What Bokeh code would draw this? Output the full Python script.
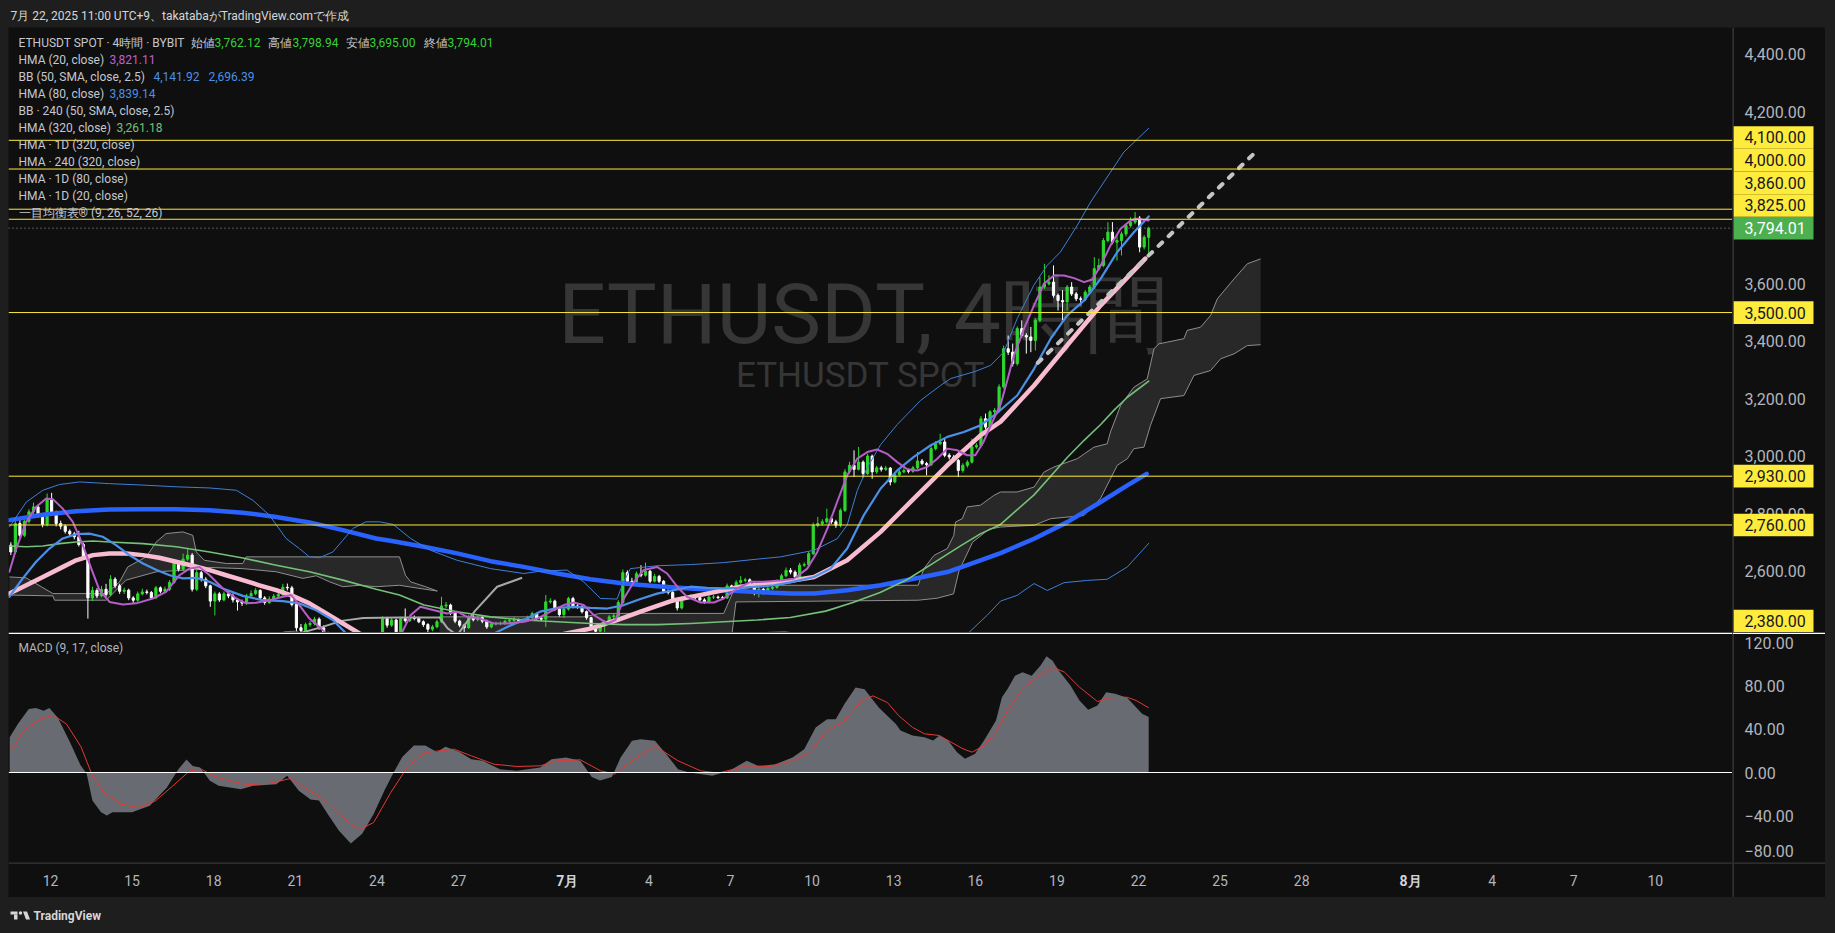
import pandas as pd
from bokeh.plotting import figure
from bokeh.layouts import column, row
from bokeh.models import Label, Range1d, Span
from bokeh.embed import file_html
from bokeh.resources import INLINE
from bokeh.core.properties import value

# ============================ DATA ============================
# x values are day numbers: days since 2025-05-31 00:00 (UTC+9)  (June 12 -> 12, July 1 -> 31, Aug 1 -> 62)
bar_times = pd.date_range("2025-06-10 13:00", periods=252, freq="4h")
first_open = 2690.0
closes = [
    2666, 2765, 2724, 2773, 2806, 2823, 2792, 2762, 2850, 2803,
    2765, 2756, 2738, 2729, 2719, 2692, 2646, 2506, 2532, 2513,
    2536, 2518, 2571, 2548, 2529, 2533, 2506, 2498, 2520, 2527,
    2525, 2506, 2541, 2529, 2536, 2560, 2629, 2606, 2641, 2655,
    2536, 2594, 2571, 2548, 2495, 2520, 2499, 2520, 2513, 2499,
    2492, 2488, 2513, 2521, 2532, 2506, 2490, 2502, 2512, 2518,
    2543, 2541, 2483, 2402, 2392, 2413, 2417, 2432, 2402, 2382,
    2350, 2300, 2240, 2200, 2150, 2230, 2210, 2250, 2280, 2330,
    2370, 2376, 2434, 2411, 2429, 2388, 2434, 2427, 2438, 2434,
    2423, 2413, 2397, 2405, 2423, 2478, 2481, 2453, 2425, 2411,
    2402, 2439, 2430, 2437, 2425, 2405, 2416, 2417, 2417, 2425,
    2427, 2430, 2427, 2430, 2438, 2451, 2434, 2432, 2492, 2495,
    2467, 2448, 2467, 2504, 2478, 2475, 2458, 2437, 2402, 2390,
    2413, 2420, 2440, 2444, 2490, 2594, 2564, 2562, 2590, 2585,
    2599, 2564, 2581, 2564, 2529, 2525, 2495, 2471, 2506, 2509,
    2511, 2507, 2499, 2492, 2509, 2509, 2507, 2506, 2548, 2529,
    2560, 2567, 2569, 2557, 2522, 2536, 2525, 2539, 2543, 2564,
    2583, 2602, 2596, 2579, 2620, 2622, 2660, 2759, 2765, 2771,
    2782, 2771, 2759, 2811, 2945, 2968, 2954, 2979, 2939, 3000,
    2945, 2959, 2954, 2958, 2910, 2935, 2945, 2950, 2947, 2959,
    2983, 2974, 2970, 3026, 3043, 3049, 3003, 2997, 2985, 2950,
    2968, 2979, 3032, 3037, 3130, 3101, 3154, 3159, 3241, 3374,
    3362, 3322, 3444, 3420, 3415, 3403, 3473, 3589, 3600, 3606,
    3560, 3542, 3537, 3589, 3565, 3548, 3546, 3571, 3589, 3653,
    3664, 3751, 3780, 3745, 3751, 3774, 3803, 3815, 3829, 3728,
    3762.12, 3794.01]
highs = [
    2700, 2775, 2778, 2785, 2815, 2838, 2830, 2800, 2870, 2872,
    2810, 2775, 2762, 2745, 2736, 2740, 2698, 2652, 2545, 2540,
    2548, 2555, 2585, 2578, 2555, 2542, 2538, 2512, 2528, 2538,
    2535, 2530, 2548, 2546, 2545, 2568, 2640, 2635, 2660, 2680,
    2662, 2605, 2600, 2578, 2552, 2528, 2526, 2528, 2530, 2522,
    2506, 2500, 2520, 2532, 2540, 2536, 2512, 2512, 2520, 2528,
    2555, 2556, 2548, 2490, 2415, 2420, 2425, 2440, 2438, 2410,
    2388, 2360, 2310, 2250, 2210, 2245, 2240, 2262, 2295, 2345,
    2378, 2380, 2442, 2440, 2436, 2434, 2440, 2469, 2445, 2445,
    2440, 2428, 2418, 2412, 2430, 2510, 2492, 2486, 2458, 2430,
    2416, 2446, 2446, 2444, 2441, 2430, 2422, 2423, 2424, 2430,
    2433, 2440, 2434, 2436, 2444, 2458, 2455, 2440, 2516, 2505,
    2500, 2472, 2474, 2510, 2510, 2484, 2480, 2462, 2440, 2410,
    2418, 2428, 2447, 2452, 2498, 2605, 2602, 2576, 2598, 2620,
    2629, 2604, 2590, 2586, 2568, 2536, 2530, 2500, 2512, 2516,
    2518, 2516, 2512, 2505, 2515, 2516, 2514, 2513, 2556, 2552,
    2568, 2582, 2576, 2574, 2560, 2545, 2540, 2545, 2552, 2570,
    2590, 2612, 2610, 2602, 2628, 2630, 2668, 2768, 2788, 2780,
    2817, 2790, 2778, 2818, 2955, 2980, 3020, 3032, 2985, 3008,
    3005, 2966, 2966, 2966, 2962, 2942, 2952, 2958, 2956, 2966,
    3014, 2990, 2980, 3034, 3052, 3078, 3061, 3010, 3004, 2990,
    2975, 2986, 3061, 3045, 3140, 3148, 3160, 3167, 3250, 3385,
    3420, 3392, 3452, 3473, 3428, 3450, 3480, 3624, 3670, 3630,
    3664, 3566, 3578, 3596, 3606, 3572, 3556, 3578, 3596, 3693,
    3688, 3760, 3815, 3815, 3775, 3782, 3810, 3832, 3850, 3836,
    3770, 3798.94]
lows = [
    2655, 2660, 2715, 2718, 2765, 2798, 2785, 2752, 2755, 2795,
    2755, 2745, 2730, 2718, 2710, 2685, 2638, 2434, 2495, 2505,
    2508, 2510, 2512, 2540, 2520, 2520, 2498, 2488, 2492, 2515,
    2518, 2500, 2502, 2522, 2524, 2530, 2555, 2598, 2600, 2635,
    2528, 2530, 2563, 2540, 2475, 2445, 2492, 2494, 2505, 2490,
    2462, 2478, 2482, 2508, 2515, 2500, 2482, 2485, 2496, 2505,
    2512, 2532, 2476, 2390, 2384, 2385, 2405, 2410, 2395, 2370,
    2340, 2290, 2225, 2180, 2110, 2140, 2195, 2200, 2240, 2270,
    2320, 2352, 2370, 2402, 2405, 2380, 2384, 2420, 2422, 2428,
    2418, 2405, 2382, 2390, 2400, 2418, 2470, 2446, 2418, 2404,
    2376, 2398, 2424, 2425, 2418, 2398, 2400, 2410, 2411, 2412,
    2420, 2422, 2420, 2422, 2425, 2433, 2428, 2425, 2405, 2486,
    2460, 2441, 2436, 2462, 2470, 2468, 2452, 2430, 2395, 2382,
    2382, 2376, 2415, 2432, 2438, 2485, 2556, 2552, 2555, 2578,
    2580, 2558, 2560, 2558, 2522, 2518, 2488, 2462, 2466, 2500,
    2504, 2500, 2494, 2486, 2488, 2502, 2502, 2500, 2502, 2522,
    2525, 2555, 2560, 2550, 2515, 2508, 2518, 2520, 2533, 2538,
    2560, 2578, 2588, 2572, 2575, 2614, 2618, 2655, 2752, 2758,
    2765, 2764, 2750, 2752, 2805, 2938, 2927, 2950, 2925, 2934,
    2921, 2938, 2946, 2948, 2898, 2905, 2930, 2940, 2940, 2942,
    2955, 2968, 2933, 2965, 3020, 3038, 2996, 2988, 2978, 2927,
    2942, 2960, 2974, 3026, 3030, 3094, 3095, 3146, 3152, 3235,
    3352, 3312, 3315, 3412, 3357, 3362, 3368, 3466, 3582, 3594,
    3552, 3507, 3473, 3507, 3558, 3540, 3525, 3540, 3565, 3582,
    3646, 3658, 3744, 3738, 3681, 3699, 3765, 3796, 3808, 3710,
    3720, 3695.00]

# indicator lines: (day, price)
hma20 = [(10.49, 2597), (10.74, 2678), (11.11, 2771), (11.47, 2823), (11.84, 2852), (12.09, 2850), (12.45, 2817),
         (12.82, 2771), (13.19, 2690), (13.5, 2608), (13.8, 2533), (14.17, 2492), (14.66, 2483), (15.15, 2487),
         (15.76, 2504), (16.25, 2527), (16.74, 2585), (17.11, 2608), (17.48, 2614), (17.85, 2585), (18.34, 2539),
         (18.83, 2504), (19.19, 2487), (19.56, 2489), (20.05, 2498), (20.54, 2510), (20.85, 2516), (21.15, 2481),
         (21.52, 2434), (21.95, 2399), (22.2, 2376), (22.8, 2280), (23.5, 2250), (24.2, 2330), (24.87, 2376),
         (25.24, 2446), (25.6, 2475), (26.1, 2463), (26.58, 2452), (26.95, 2458), (27.32, 2440), (27.8, 2434),
         (28.3, 2417), (28.79, 2417), (29.4, 2423), (29.9, 2434), (30.38, 2458), (30.87, 2481), (31.24, 2490),
         (31.6, 2481), (31.98, 2446), (32.47, 2417), (32.77, 2429), (33.08, 2504), (33.45, 2562), (33.81, 2603),
         (34.3, 2614), (34.67, 2591), (35.04, 2545), (35.4, 2510), (35.9, 2490), (36.39, 2490), (36.75, 2504),
         (37.25, 2539), (37.74, 2562), (38.23, 2562), (38.84, 2567), (39.33, 2573), (39.82, 2608), (40.19, 2666),
         (40.56, 2747), (40.92, 2840), (41.29, 2933), (41.66, 2991), (42.03, 3014), (42.39, 3023), (42.76, 3008),
         (43.13, 2979), (43.5, 2954), (43.86, 2950), (44.23, 2962), (44.6, 2991), (44.97, 3026), (45.34, 3020),
         (45.7, 3003), (46.0, 3003), (46.3, 3049), (46.68, 3130), (46.93, 3180), (47.18, 3265), (47.42, 3351),
         (47.79, 3444), (48.16, 3525), (48.52, 3600), (48.89, 3629), (49.26, 3629), (49.63, 3620), (50.0, 3606),
         (50.3, 3615), (50.61, 3664), (50.97, 3734), (51.34, 3792), (51.71, 3821), (51.95, 3827), (52.375, 3821)]
hma80 = [(10.49, 2510), (10.98, 2574), (11.47, 2632), (11.96, 2678), (12.45, 2713), (12.94, 2728), (13.43, 2730),
         (13.92, 2719), (14.41, 2690), (14.9, 2655), (15.4, 2626), (15.9, 2603), (16.38, 2585), (16.87, 2574),
         (17.36, 2576), (17.85, 2562), (18.34, 2539), (19.07, 2513), (19.81, 2498), (20.54, 2495), (21.15, 2487),
         (21.77, 2463), (22.38, 2429), (22.87, 2382), (23.5, 2330), (25.0, 2290), (26.5, 2310), (27.5, 2350),
         (28.18, 2376), (28.79, 2405), (29.4, 2429), (30.0, 2458), (30.63, 2471), (31.24, 2475), (31.85, 2471),
         (32.47, 2469), (33.08, 2481), (33.69, 2502), (34.3, 2521), (34.92, 2533), (35.53, 2545), (36.14, 2541),
         (36.75, 2539), (37.37, 2541), (37.98, 2545), (38.59, 2550), (39.2, 2560), (40.07, 2579), (40.68, 2608),
         (41.29, 2678), (41.9, 2794), (42.52, 2887), (43.13, 2950), (43.74, 2997), (44.35, 3037), (44.97, 3067),
         (45.58, 3084), (46.19, 3107), (46.8, 3150), (47.54, 3211), (48.16, 3304), (48.77, 3409), (49.38, 3490),
         (50.0, 3542), (50.61, 3618), (51.22, 3711), (51.83, 3780), (52.375, 3835)]
bb_upper = [(10.49, 2753), (11.11, 2840), (11.72, 2881), (12.33, 2901), (13.07, 2910), (14.17, 2904), (15.4, 2899),
            (16.62, 2893), (17.85, 2889), (18.83, 2881), (19.44, 2846), (20.05, 2794), (20.66, 2713), (21.15, 2678),
            (21.52, 2649), (21.89, 2646), (22.38, 2666), (22.75, 2707), (23.12, 2748), (23.6, 2771), (24.1, 2771),
            (24.6, 2762), (25.24, 2713), (25.97, 2672), (26.95, 2637), (28.18, 2608), (29.4, 2591), (30.0, 2599),
            (30.99, 2603), (31.6, 2562), (32.22, 2504), (32.83, 2502), (33.02, 2550), (33.32, 2608), (34.3, 2618),
            (35.53, 2622), (36.75, 2629), (37.98, 2641), (38.84, 2649), (40.07, 2672), (40.92, 2712), (41.29, 2760),
            (41.66, 2880), (42.03, 2960), (42.52, 3040), (43.13, 3110), (43.99, 3194), (44.72, 3246), (45.09, 3270),
            (46.0, 3295), (46.56, 3316), (47.05, 3363), (47.54, 3479), (48.15, 3595), (48.64, 3664), (49.13, 3711),
            (49.75, 3804), (50.24, 3885), (50.97, 3989), (51.46, 4059), (52.375, 4142)]
bb_lower = [(10.5, 2360), (13.0, 2330), (16.0, 2340), (19.5, 2362), (20.3, 2378), (20.6, 2388), (21.0, 2390),
            (21.4, 2378), (22.0, 2330), (24.0, 2250), (27.0, 2260), (30.0, 2320), (33.0, 2355), (36.0, 2370),
            (37.9, 2380), (38.4, 2386), (39.0, 2388), (39.6, 2380), (40.5, 2345), (42.0, 2280), (44.0, 2300),
            (45.2, 2350), (45.76, 2385), (46.44, 2446), (46.93, 2495), (47.54, 2515), (48.16, 2556), (48.65, 2532),
            (49.26, 2559), (50.12, 2567), (50.85, 2571), (51.59, 2614), (52.375, 2696)]
hma320 = [(10.49, 2687), (11.11, 2684), (11.72, 2687), (12.33, 2695), (12.94, 2701), (13.56, 2704), (14.17, 2701),
          (15.4, 2695), (16.62, 2684), (17.85, 2666), (19.07, 2645), (20.3, 2620), (21.52, 2597), (22.75, 2568),
          (23.97, 2536), (24.83, 2516), (25.73, 2481), (26.95, 2458), (28.18, 2440), (29.4, 2429), (30.63, 2423),
          (31.85, 2417), (33.08, 2413), (34.3, 2413), (35.53, 2417), (36.75, 2423), (37.98, 2429), (39.2, 2438),
          (40.5, 2460), (41.5, 2490), (42.5, 2525), (43.5, 2570), (44.5, 2630), (45.5, 2690), (46.2, 2730),
          (46.93, 2762), (47.5, 2810), (48.16, 2865), (48.77, 2930), (49.38, 2995), (50.0, 3055), (50.61, 3110),
          (51.1, 3160), (51.59, 3205), (52.375, 3261)]
hma1d320 = [(10.49, 2777), (11.72, 2796), (12.94, 2808), (14.17, 2814), (15.4, 2815), (16.62, 2815), (17.85, 2811),
            (19.07, 2803), (20.3, 2788), (21.52, 2769), (22.75, 2742), (23.97, 2713), (24.5, 2705), (25.73, 2684),
            (26.95, 2661), (28.18, 2634), (29.4, 2614), (30.63, 2591), (31.85, 2571), (33.08, 2556), (34.3, 2547),
            (35.53, 2539), (36.75, 2533), (37.98, 2527), (39.2, 2521), (40.07, 2521), (41.29, 2533), (42.52, 2550),
            (43.74, 2573), (44.97, 2596), (46.19, 2637), (46.93, 2662), (48.16, 2712), (49.38, 2770), (50.61, 2840),
            (51.59, 2898), (52.3, 2938)]
hma1d80 = [(10.49, 2521), (11.11, 2550), (11.72, 2579), (12.33, 2608), (12.94, 2637), (13.56, 2655), (14.17, 2661),
           (14.78, 2661), (15.4, 2655), (16.0, 2646), (16.62, 2632), (17.23, 2618), (17.85, 2603), (18.46, 2585),
           (19.07, 2568), (19.68, 2550), (20.3, 2533), (20.9, 2513), (21.52, 2487), (22.14, 2452), (22.75, 2417),
           (23.36, 2382), (24.5, 2330), (26.0, 2300), (28.0, 2330), (30.0, 2365), (30.87, 2380), (31.85, 2399),
           (32.83, 2429), (33.69, 2458), (34.92, 2498), (36.14, 2521), (37.37, 2545), (38.84, 2560), (40.07, 2579),
           (41.29, 2637), (42.52, 2736), (43.74, 2852), (44.97, 2968), (46.19, 3072), (46.93, 3120), (48.16, 3246),
           (49.38, 3386), (50.61, 3525), (52.25, 3688)]
gray_line = [(21.05, 2380), (22.0, 2405), (22.7, 2426), (23.5, 2436), (24.8, 2438), (26.3, 2438), (26.6, 2400),
             (26.95, 2376), (27.6, 2460), (28.42, 2545), (29.34, 2576)]
trend_line = [(48.3, 3325), (56.41, 4069)]
cloud1_up = [(10.49, 2579), (11.1, 2576), (11.66, 2545), (12.09, 2521), (14.05, 2521), (14.54, 2562), (14.84, 2614),
             (15.52, 2649), (15.89, 2701), (16.25, 2730), (16.87, 2736), (17.23, 2724), (17.36, 2666), (17.66, 2637),
             (18.46, 2626), (19.07, 2626), (19.19, 2649), (24.83, 2649), (25.05, 2585), (25.24, 2562), (25.79, 2545),
             (26.22, 2530)]
cloud1_lo = [(10.49, 2516), (12.09, 2513), (12.15, 2498), (14.05, 2498), (14.78, 2568), (15.89, 2597), (17.36, 2605),
             (17.85, 2612), (19.07, 2608), (20.3, 2597), (21.28, 2574), (21.77, 2583), (22.26, 2562), (22.75, 2545),
             (23.36, 2550), (23.97, 2545), (24.83, 2550), (25.5, 2540), (26.22, 2530)]
cloud2_up = [(26.3, 2440), (31.6, 2440), (32.2, 2452), (36.75, 2452), (37.2, 2550), (43.9, 2550), (44.11, 2608),
             (44.48, 2654), (44.97, 2678), (45.21, 2724), (45.27, 2770), (45.52, 2782), (45.7, 2823), (46.19, 2829),
             (46.68, 2863), (46.93, 2875), (47.54, 2875), (48.16, 2892), (48.52, 2944), (48.89, 2962), (49.75, 2991),
             (50.36, 3031), (50.85, 3043), (50.97, 3084), (51.34, 3176), (51.83, 3240), (52.32, 3269), (52.57, 3374),
             (52.75, 3391), (53.67, 3409), (53.79, 3438), (54.28, 3449), (54.65, 3490), (54.9, 3548), (55.51, 3617),
             (56.0, 3670), (56.49, 3687)]
cloud2_lo = [(26.3, 2340), (37.0, 2340), (37.2, 2492), (43.9, 2498), (44.6, 2505), (45.2, 2520), (45.4, 2600),
             (45.9, 2700), (46.5, 2745), (46.93, 2753), (48.16, 2759), (48.77, 2782), (49.99, 2793), (50.6, 2852),
             (50.97, 2921), (51.22, 2968), (51.59, 2991), (51.83, 3026), (52.2, 3031), (52.44, 3107), (52.81, 3200),
             (53.67, 3211), (54.04, 3281), (54.65, 3298), (55.02, 3339), (55.51, 3356), (56.0, 3385), (56.49, 3388)]

macd = [(10.5, 32.8), (10.8, 45), (11.2, 59), (11.47, 60), (11.75, 57.5), (11.96, 60), (12.27, 51), (12.7, 29),
        (13.1, 7), (13.33, -1.2), (13.54, -26), (13.86, -37), (14.07, -40), (14.28, -37), (15.0, -37), (15.65, -31),
        (16.28, -14), (16.7, 3), (17.0, 12), (17.23, 6), (17.5, 4.7), (17.86, -7.7), (18.18, -12.4), (19.0, -15.5),
        (19.45, -12.4), (20.3, -10.9), (20.7, -3), (21.13, -17), (21.56, -25), (21.87, -26), (22.19, -38.7),
        (22.6, -54), (23.04, -66), (23.46, -57), (23.88, -38.7), (24.3, -15.5), (24.62, 0.3), (24.93, 14.3),
        (25.36, 25), (25.78, 25), (26.2, 19), (26.52, 24), (27.04, 19), (27.47, 12.4), (27.89, 10.9), (28.52, 3),
        (29.15, 1.6), (30.0, 4.7), (30.42, 12.4), (30.95, 14), (31.48, 11), (31.9, -4.3), (32.2, -7.4),
        (32.64, -4.3), (32.96, 14), (33.38, 29.6), (33.7, 31), (34.22, 29.6), (34.64, 17), (35.07, 3), (35.49, 0),
        (36.33, -3), (36.96, 1.6), (37.6, 11), (38.02, 6), (38.65, 7.7), (39.28, 14), (39.71, 21.7), (40.13, 41.9),
        (40.55, 49.6), (40.87, 49.6), (41.19, 63.6), (41.6, 79), (41.93, 77.5), (42.45, 60.5), (43.08, 45),
        (43.25, 39), (43.69, 34.4), (44.13, 32.8), (44.45, 29.8), (44.68, 34.4), (45.0, 29.8), (45.33, 18.9),
        (45.62, 12.7), (45.99, 17.4), (46.32, 29.8), (46.54, 39), (46.76, 48.4), (46.98, 70), (47.19, 77.8),
        (47.46, 90), (47.74, 93.3), (48.07, 90), (48.4, 99.5), (48.62, 108), (48.84, 104), (49.06, 95), (49.5, 81),
        (49.83, 67), (50.15, 58.3), (50.49, 62.3), (50.81, 74.7), (51.14, 73.2), (51.58, 69.5), (51.91, 60.7),
        (52.13, 54.6), (52.375, 51.5)]
signal = [(10.54, 19), (11.0, 39), (11.64, 49.6), (12.1, 53.3), (12.59, 45), (13.12, 24), (13.54, -3), (13.96, -18.6),
          (14.6, -29.5), (15.23, -32.6), (15.86, -26.4), (16.5, -12.4), (17.12, 1.6), (17.55, 3.1), (17.97, -3),
          (18.6, -7.7), (19.23, -11.5), (20.08, -9.9), (20.82, -5.6), (21.45, -15.5), (22.19, -27.9), (22.82, -43.4),
          (23.35, -53.3), (23.88, -46.5), (24.51, -18.6), (25.15, 6.2), (25.78, 18.6), (26.31, 20.2), (26.84, 21.7),
          (27.47, 15.5), (28.31, 7.7), (29.15, 5.6), (30.0, 6.2), (30.63, 10.9), (31.48, 11.8), (32.22, 1.6),
          (32.74, -1.5), (33.38, 10.9), (34.22, 24.8), (35.07, 10.9), (35.9, 1.6), (36.54, -0.6), (37.6, 6.2),
          (38.44, 5.6), (39.28, 11), (39.92, 18.6), (40.55, 38.8), (41.19, 48), (41.82, 66.7), (42.24, 71.3),
          (42.77, 65), (43.19, 52.7), (43.69, 42), (44.13, 36), (44.68, 34.4), (45.11, 28.2), (45.55, 22),
          (45.88, 18.9), (46.32, 25), (46.76, 37.5), (47.19, 57.7), (47.74, 77.8), (48.28, 88.7), (48.84, 98),
          (49.28, 93.3), (49.83, 79.4), (50.49, 66), (50.93, 69.5), (51.58, 70), (51.91, 67), (52.375, 60.2)]

price_ticks = [2600, 2800, 3000, 3200, 3400, 3600, 4200, 4400]
h_levels = [4100, 4000, 3860, 3825, 3500, 2930, 2760, 2380]
last_price = 3794.01
macd_ticks = [120, 80, 40, 0, -40, -80]
time_ticks = [12, 15, 18, 21, 24, 27, 31, 34, 37, 40, 43, 46, 49, 52, 55, 58, 62, 65, 68, 71]
time_labels = ["12", "15", "18", "21", "24", "27", "7月", "4", "7", "10", "13", "16", "19", "22", "25", "28",
               "8月", "4", "7", "10"]
header_text = "7月 22, 2025 11:00 UTC+9、takatabaがTradingView.comで作成"
legend_rows = ["ETHUSDT SPOT · 4時間 · BYBIT", "HMA (20, close)", "BB (50, SMA, close, 2.5)", "HMA (80, close)",
               "BB · 240 (50, SMA, close, 2.5)", "HMA (320, close)", "HMA · 1D (320, close)",
               "HMA · 240 (320, close)", "HMA · 1D (80, close)", "HMA · 1D (20, close)",
               "一目均衡表® (9, 26, 52, 26)"]
ohlc_names = ["始値", "高値", "安値", "終値"]
ohlc_vals = [3762.12, 3798.94, 3695.00, 3794.01]
hma20_last, bb_last_up, bb_last_lo, hma80_last, hma320_last = 3821.11, 4141.92, 2696.39, 3839.14, 3261.18

# ============================ STYLE ============================
OUTER = "#1e1e1e"
BG = "#0f0f0f"
TXT = "#b2b5be"
LEG = "#c4c7ce"
UP = "#2ed82e"
DOWN = "#ffffff"
YEL = "#ffeb3b"
FONT = "Roboto"

MAIN_W, MAIN_H, AX_W, MACD_H, TIME_H = 1724, 605, 93, 230, 35


def unz(pts):
    return [a for a, b in pts], [b for a, b in pts]


def mkfig(w, h, xr, yr, bg=BG):
    f = figure(width=w, height=h, x_range=xr, y_range=yr, output_backend="svg", toolbar_location=None,
               min_border=0, x_axis_location=None, y_axis_location=None,
               background_fill_color=bg, border_fill_color=bg, outline_line_color=None)
    f.grid.visible = False
    return f


def slabel(f, x, y, text, size, color, align="left", bold=False, level="annotation"):
    f.add_layout(Label(x=x, y=y, x_units="screen", y_units="screen", text=text, text_font=FONT,
                       text_font_size=f"{size}px", text_color=color, text_align=align, text_baseline="middle",
                       text_font_style="bold" if bold else "normal", level=level))


xr = Range1d(10.456, 73.838)
yr = Range1d(2385.5, 4493.0)

# ---------------- main price pane ----------------
p = mkfig(MAIN_W, MAIN_H, xr, yr)
slabel(p, 855, 318, "ETHUSDT, 4時間", 84, "#363636", align="center", level="underlay")
slabel(p, 852, 257, "ETHUSDT SPOT", 35, "#363636", align="center", level="underlay")

for up_pts, lo_pts in [(cloud1_up, cloud1_lo), (cloud2_up, cloud2_lo)]:
    ux, uy = unz(up_pts)
    lx, ly = unz(lo_pts)
    p.patch(ux + lx[::-1], uy + ly[::-1], fill_color="#282828", line_color=None)
    p.line(ux, uy, line_color="#8e8e8e", line_width=1)
    p.line(lx, ly, line_color="#8e8e8e", line_width=1)

days = ((bar_times - pd.Timestamp("2025-05-31 00:00")) / pd.Timedelta(days=1)).to_numpy()
opens = [first_open] + closes[:-1]
for want_up, col in [(True, UP), (False, DOWN)]:
    idx = [i for i in range(len(closes)) if (closes[i] >= opens[i]) == want_up]
    xs = [days[i] for i in idx]
    p.segment(x0=xs, y0=[lows[i] for i in idx], x1=xs, y1=[highs[i] for i in idx], line_color=col, line_width=1)
    p.vbar(x=xs, width=0.08, top=[max(opens[i], closes[i]) for i in idx],
           bottom=[min(opens[i], closes[i]) for i in idx], fill_color=col, line_color=col, line_width=1)

gx, gy = unz(gray_line)
p.line(gx, gy, line_color="#a8a8a8", line_width=2)
for pts, col, w in [(hma1d320, "#2962ff", 4.5), (hma1d80, "#f8bbd0", 4.5), (hma320, "#74c177", 1.6),
                    (bb_upper, "#3f7fd6", 1), (bb_lower, "#3f7fd6", 1), (hma80, "#4a90e8", 2.2),
                    (hma20, "#b65dc9", 2)]:
    x, y = unz(pts)
    p.line(x, y, line_color=col, line_width=w, line_join="round", line_cap="round")
tx, ty = unz(trend_line)
p.line(tx, ty, line_color="#c4c4c4", line_width=4, line_dash="5 9", line_cap="round")

for lv in h_levels:
    p.add_layout(Span(location=lv, dimension="width", line_color=YEL, line_width=1))
p.add_layout(Span(location=last_price, dimension="width", line_color="#9a9da6", line_width=1, line_dash="1 3"))

# legend
for k, t in enumerate(legend_rows):
    slabel(p, 10, 590 - 17 * k, t, 12, LEG)
for (nm, v), xn, xv in zip(zip(ohlc_names, ohlc_vals), [182, 259, 337, 415], [206, 284, 361, 439]):
    slabel(p, xn, 590, nm, 12, LEG)
    slabel(p, xv, 590, f"{v:,.2f}", 12, "#36d236")
slabel(p, 101, 573, f"{hma20_last:,.2f}", 12, "#c05fd2")
slabel(p, 145, 556, f"{bb_last_up:,.2f}", 12, "#4a90e8")
slabel(p, 200, 556, f"{bb_last_lo:,.2f}", 12, "#4a90e8")
slabel(p, 101, 539, f"{hma80_last:,.2f}", 12, "#4a90e8")
slabel(p, 108, 505, f"{hma320_last:,.2f}", 12, "#74c177")

# ---------------- price axis ----------------
pa = mkfig(AX_W, MAIN_H, Range1d(0, AX_W), yr)
pa.add_layout(Span(location=0.5, dimension="height", line_color="#555555", line_width=1))
pa.text(x=[12] * len(price_ticks), y=price_ticks, text=[f"{v:,.2f}" for v in price_ticks],
        text_font=value(FONT), text_font_size="16px", text_color=TXT, text_baseline="middle", text_align="left")
ppu = MAIN_H / (yr.end - yr.start)
hb = 22.67 / ppu
entries = sorted([(lv, YEL, "#131722") for lv in h_levels] + [(last_price, "#4caf50", "#ffffff")])
prev = None
boxes = []
for lv, bgc, fgc in entries:
    c = min(max(lv, yr.start + hb / 2), yr.end - hb / 2)
    if prev is not None and c < prev + hb:
        c = prev + hb
    boxes.append((lv, c, bgc, fgc))
    prev = c
pa.quad(left=[1] * len(boxes), right=[81] * len(boxes), bottom=[b[1] - hb / 2 for b in boxes],
        top=[b[1] + hb / 2 for b in boxes], fill_color=[b[2] for b in boxes], line_color=None)
pa.text(x=[12] * len(boxes), y=[b[1] for b in boxes], text=[f"{b[0]:,.2f}" for b in boxes],
        text_color=[b[3] for b in boxes], text_font=value(FONT), text_font_size="16px",
        text_baseline="middle", text_align="left")

# ---------------- MACD pane ----------------
myr = Range1d(-83.7, 130.2)
pm = mkfig(MAIN_W, MACD_H, xr, myr)
mx, my = unz(macd)
pm.varea(x=mx, y1=0, y2=my, fill_color="#696b72")
sx, sy = unz(signal)
pm.line(sx, sy, line_color="#e53935", line_width=1)
pm.add_layout(Span(location=0, dimension="width", line_color="#ffffff", line_width=1))
pm.add_layout(Span(location=129.6, dimension="width", line_color="#ffffff", line_width=1.5))
slabel(pm, 10, 215, "MACD (9, 17, close)", 12, TXT)

pma = mkfig(AX_W, MACD_H, Range1d(0, AX_W), myr)
pma.add_layout(Span(location=0.5, dimension="height", line_color="#555555", line_width=1))
pma.add_layout(Span(location=129.6, dimension="width", line_color="#ffffff", line_width=1.5))
# lowest tick label is lifted just enough to stay inside the pane
macd_label_y = [max(v, myr.start + 12 * (myr.end - myr.start) / MACD_H) for v in macd_ticks]
pma.text(x=[12] * len(macd_ticks), y=macd_label_y, text=[f"{v:.2f}".replace("-", "−") for v in macd_ticks],
         text_font=value(FONT), text_font_size="16px", text_color=TXT, text_baseline="middle", text_align="left")

# ---------------- time axis ----------------
pt = mkfig(MAIN_W, TIME_H, xr, Range1d(0, TIME_H))
pt.add_layout(Span(location=TIME_H - 0.5, dimension="width", line_color="#4a4a4a", line_width=1))
month_idx = [i for i, t in enumerate(time_labels) if "月" in t]
day_idx = [i for i in range(len(time_labels)) if i not in month_idx]
pt.text(x=[time_ticks[i] for i in day_idx], y=[17] * len(day_idx), text=[time_labels[i] for i in day_idx],
        text_font=value(FONT), text_font_size="14px", text_color=TXT, text_baseline="middle", text_align="center")
pt.text(x=[time_ticks[i] for i in month_idx], y=[17] * len(month_idx), text=[time_labels[i] for i in month_idx],
        text_font=value(FONT), text_font_size="14px", text_color="#d1d4dc", text_font_style="bold",
        text_baseline="middle", text_align="center")
pta = mkfig(AX_W, TIME_H, Range1d(0, AX_W), Range1d(0, TIME_H))
pta.add_layout(Span(location=0.5, dimension="height", line_color="#555555", line_width=1))
pta.add_layout(Span(location=TIME_H - 0.5, dimension="width", line_color="#4a4a4a", line_width=1))

# ---------------- header / footer ----------------
hd = mkfig(1819, 19, Range1d(0, 1819), Range1d(0, 19), bg=OUTER)
slabel(hd, 2, 12, header_text, 12, "#d6d6d6")
ft = mkfig(1819, 28, Range1d(0, 1819), Range1d(0, 28), bg=OUTER)
ft.quad(left=[2, 5.5], right=[9, 9], bottom=[11, 6], top=[14, 11], fill_color="#d6d6d6", line_color=None)
ft.scatter(x=[12], y=[12.5], size=3.5, fill_color="#d6d6d6", line_color=None)
ft.patch([14.5, 18.5, 21.5, 17.5], [14, 14, 6, 6], fill_color="#d6d6d6", line_color=None)
slabel(ft, 25, 10, "TradingView", 12, "#d6d6d6", bold=True)

layout = column(hd, row(p, pa, spacing=0), row(pm, pma, spacing=0), row(pt, pta, spacing=0), ft, spacing=0)

html = file_html(layout, INLINE, title="ETHUSDT 4h")
html = html.replace("</head>", "<style>html,body{background:#1e1e1e !important;}"
                    "body{padding:8px !important;}</style></head>", 1)
open("out.html", "w").write(html)
